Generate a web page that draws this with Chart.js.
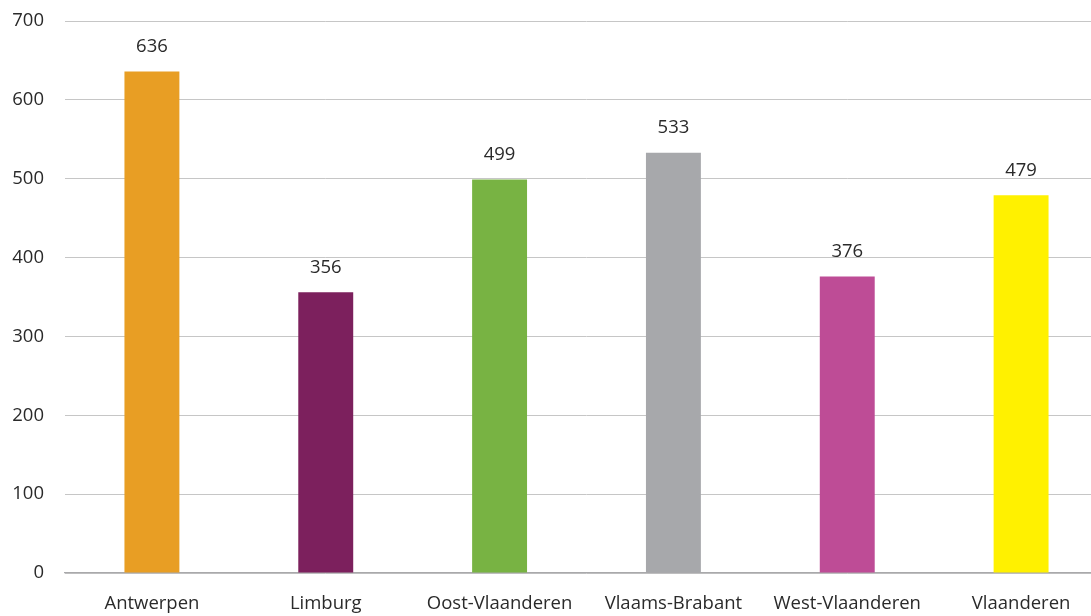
<!DOCTYPE html>
<html lang="nl">
<head>
<meta charset="UTF-8">
<title>Staafdiagram provincies</title>
<script src="https://cdn.jsdelivr.net/npm/chart.js"></script>
<style>
  html, body { margin: 0; padding: 0; background: #fff; overflow: hidden; }
  #wrap { width: 1108px; height: 616px; position: relative; }
</style>
</head>
<body>
<div id="wrap"><canvas id="myChart"></canvas></div>
<script>
const categories = ['Antwerpen', 'Limburg', 'Oost-Vlaanderen', 'Vlaams-Brabant', 'West-Vlaanderen', 'Vlaanderen'];
const values = [636, 356, 499, 533, 376, 479];
const barColors = ['#E89E24', '#7C205D', '#78B343', '#A7A8AB', '#BE4C96', '#FFF100'];
const yTicks = [0, 100, 200, 300, 400, 500, 600, 700];

const fontFamily = '"Open Sans", "Noto Sans", sans-serif';
const textColor = '#2a2a2a';
const fontSize = 18.5;

// draw the value above each bar
const valueLabels = {
    id: 'valueLabels',
    afterDatasetsDraw(chart) {
        const ctx = chart.ctx;
        const meta = chart.getDatasetMeta(0);
        ctx.save();
        ctx.font = fontSize + 'px ' + fontFamily;
        ctx.fillStyle = textColor;
        ctx.textAlign = 'center';
        ctx.textBaseline = 'middle';
        meta.data.forEach((bar, i) => {
            ctx.fillText(String(values[i]), bar.x, bar.y - 25);
        });
        ctx.restore();
    }
};

const ctx = document.getElementById('myChart').getContext('2d');
new Chart(ctx, {
    type: 'bar',
    data: {
        labels: categories,
        datasets: [{
            data: values,
            backgroundColor: barColors,
            borderWidth: 0,
            barPercentage: 0.316,
            categoryPercentage: 1
        }]
    },
    options: {
        responsive: true,
        maintainAspectRatio: false,
        animation: false,
        layout: { padding: { top: 21, right: 0, left: 0, bottom: 0 } },
        plugins: {
            legend: { display: false },
            tooltip: { enabled: false }
        },
        scales: {
            x: {
                grid: { display: false, drawTicks: false },
                border: { color: '#a9a9ab', width: 1.2 },
                ticks: {
                    color: textColor,
                    font: { family: fontFamily, size: fontSize },
                    padding: 20,
                    maxRotation: 0,
                    autoSkip: false
                },
                afterFit(axis) {
                    axis.height = 43;
                    axis.paddingLeft = 0;
                    axis.paddingRight = 0;
                }
            },
            y: {
                min: 0,
                max: 700,
                afterBuildTicks(axis) { axis.ticks = yTicks.map(v => ({ value: v })); },
                grid: { color: '#c6c6c6', lineWidth: 1, drawTicks: false },
                border: { display: false },
                ticks: {
                    color: textColor,
                    font: { family: fontFamily, size: fontSize },
                    padding: 21
                },
                afterFit(axis) {
                    axis.width = 65;
                    axis.paddingTop = 0;
                    axis.paddingBottom = 0;
                }
            }
        }
    },
    plugins: [valueLabels]
});
</script>
</body>
</html>
